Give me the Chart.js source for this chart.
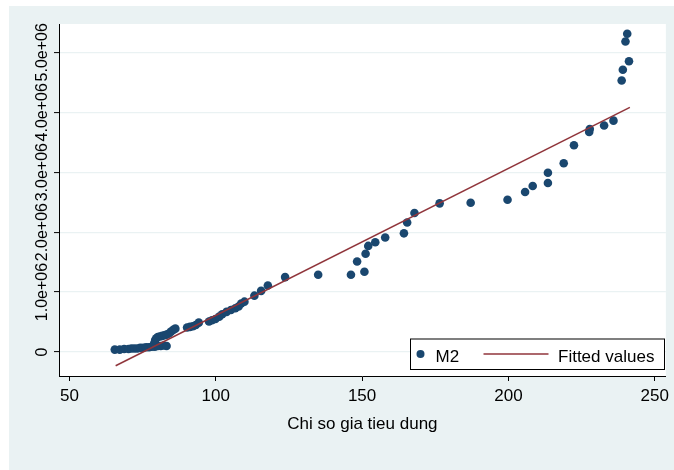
<!DOCTYPE html>
<html>
<head>
<meta charset="utf-8">
<script src="https://cdn.jsdelivr.net/npm/chart.js@4"></script>
<style>
  html, body { margin: 0; padding: 0; background: #ffffff; }
  #c { display: block; }
</style>
</head>
<body>
<canvas id="c" width="674" height="470"></canvas>
<script>
// ---- data ----
const m2X = [65.5,67.2,68.7,70.2,71.2,72.2,73.2,74.2,75.2,76.2,77.2,78.2,79.2,80.2,81.2,82.2,83.2,
  79.0,79.3,79.7,80.2,80.9,81.7,82.5,83.2,84.0,84.7,85.5,86.2,
  90.2,91.2,92.2,93.2,94.2,97.7,98.7,99.9,101.2,102.2,103.7,105.2,106.7,107.8,108.7,
  109.8,113.2,115.5,117.8,123.7,135.0,146.2,148.3,150.8,151.2,152.1,154.5,157.9,164.3,165.4,
  167.9,176.5,187.1,199.7,205.7,208.3,213.5,213.5,218.9,222.4,227.6,227.8,232.7,235.9,238.7,
  239.1,241.2,240.0,240.6];
const m2Y = [40000,40000,50000,50000,60000,60000,60000,70000,70000,80000,80000,90000,90000,100000,100000,110000,100000,
  150000,200000,230000,250000,260000,270000,280000,290000,310000,340000,370000,390000,
  410000,420000,430000,450000,490000,510000,530000,550000,590000,630000,670000,700000,730000,760000,810000,
  840000,940000,1020000,1110000,1250000,1290000,1290000,1510000,1340000,1640000,1770000,1830000,1910000,1980000,2160000,
  2320000,2480000,2490000,2540000,2670000,2770000,2820000,2990000,3150000,3450000,3670000,3720000,3780000,3860000,4530000,
  4710000,4850000,5180000,5310000];
const fittedX = [65.8, 241.5];
const fittedY = [-229000, 4080000];
const xTickValues = [50, 100, 150, 200, 250];
const xTickLabels = ["50", "100", "150", "200", "250"];
const yTickValues = [0, 1000000, 2000000, 3000000, 4000000, 5000000];
const yTickLabels = ["0", "1.0e+06", "2.0e+06", "3.0e+06", "4.0e+06", "5.0e+06"];
const seriesLabels = ["M2", "Fitted values"];
const xTitle = "Chi so gia tieu dung";

// ---- styling ----
const FONT = '"Liberation Sans", Arial, Helvetica, sans-serif';
const NAVY = '#1a476f';
const MAROON = '#90353b';
const BG = '#eaf2f3';
Chart.defaults.font.family = FONT;
Chart.defaults.color = '#000';

const bgPlugin = {
  id: 'bg',
  beforeDraw(chart) {
    const {ctx, chartArea: a} = chart;
    ctx.save();
    ctx.fillStyle = '#ffffff';
    ctx.fillRect(0, 0, chart.width, chart.height);
    ctx.fillStyle = BG;
    ctx.fillRect(9, 6, chart.width - 9, chart.height - 6);
    ctx.fillStyle = '#ffffff';
    ctx.fillRect(a.left, a.top, a.right - a.left, a.bottom - a.top);
    ctx.restore();
  }
};

const yLabelPlugin = {
  id: 'ylabels',
  afterDraw(chart) {
    const {ctx} = chart;
    const ys = chart.scales.y;
    ctx.save();
    ctx.fillStyle = '#000';
    ctx.font = '16px ' + FONT;
    ctx.textAlign = 'center';
    ctx.textBaseline = 'alphabetic';
    ys.ticks.forEach((t, i) => {
      const y = ys.getPixelForValue(t.value);
      ctx.save();
      ctx.translate(ys.right - 12.5, y);
      ctx.rotate(-Math.PI / 2);
      ctx.fillText(yTickLabels[i], 0, 0);
      ctx.restore();
    });
    ctx.restore();
  }
};

const legendPlugin = {
  id: 'boxlegend',
  afterDraw(chart) {
    const {ctx, chartArea: a} = chart;
    const ds = chart.data.datasets;
    const w = 254, h = 30.5;
    const x0 = Math.round(a.right) - 1.5 - w, y0 = Math.round(a.bottom) - 6.5 - h;
    const cy = y0 + 15;
    ctx.save();
    ctx.fillStyle = '#fff';
    ctx.fillRect(x0, y0, w, h);
    ctx.strokeStyle = '#000';
    ctx.lineWidth = 1;
    ctx.strokeRect(x0, y0, w, h);
    const scatterDs = ds.find(d => d.label === seriesLabels[0]);
    const lineDs = ds.find(d => d.label === seriesLabels[1]);
    ctx.fillStyle = scatterDs.backgroundColor;
    ctx.beginPath();
    ctx.arc(x0 + 10, cy, 4, 0, Math.PI * 2);
    ctx.fill();
    ctx.strokeStyle = lineDs.borderColor;
    ctx.lineWidth = 1.5;
    ctx.beginPath();
    ctx.moveTo(x0 + 73, cy);
    ctx.lineTo(x0 + 138, cy);
    ctx.stroke();
    ctx.fillStyle = '#000';
    ctx.font = '17px ' + FONT;
    ctx.textAlign = 'left';
    ctx.textBaseline = 'alphabetic';
    ctx.fillText(scatterDs.label, x0 + 25, cy + 7.5);
    ctx.fillText(lineDs.label, x0 + 147.5, cy + 7.5);
    ctx.restore();
  }
};

new Chart(document.getElementById('c'), {
  type: 'scatter',
  data: {
    datasets: [
      {
        type: 'line',
        label: seriesLabels[1],
        data: fittedX.map((x, i) => ({x: x, y: fittedY[i]})),
        borderColor: MAROON,
        backgroundColor: MAROON,
        borderWidth: 1.5,
        pointRadius: 0,
        fill: false,
        tension: 0,
        order: 0
      },
      {
        type: 'scatter',
        label: seriesLabels[0],
        data: m2X.map((x, i) => ({x: x, y: m2Y[i]})),
        backgroundColor: NAVY,
        borderColor: NAVY,
        borderWidth: 0,
        pointRadius: 4.3,
        order: 1
      }
    ]
  },
  options: {
    responsive: false,
    animation: false,
    layout: { padding: { left: 0, top: 24, right: 4, bottom: 0 } },
    plugins: { legend: { display: false }, tooltip: { enabled: false }, title: { display: false } },
    scales: {
      x: {
        type: 'linear',
        position: 'bottom',
        min: 46.44,
        max: 253.8,
        afterBuildTicks(s) { s.ticks = xTickValues.map(v => ({value: v})); },
        afterFit(s) { s.height = 94; },
        ticks: {
          color: '#000',
          font: { size: 17 },
          padding: 5,
          maxRotation: 0,
          autoSkip: false,
          callback(v) { const i = xTickValues.indexOf(v); return i >= 0 ? xTickLabels[i] : ''; }
        },
        grid: { drawOnChartArea: false, drawTicks: true, tickLength: 5, tickColor: '#000', tickWidth: 1 },
        border: { display: true, color: '#000', width: 1 },
        title: { display: true, text: xTitle, color: '#000', font: { size: 17 }, padding: { top: 0, bottom: 35 } }
      },
      y: {
        type: 'linear',
        position: 'left',
        min: -400000,
        max: 5472000,
        afterBuildTicks(s) { s.ticks = yTickValues.map(v => ({value: v})); },
        afterFit(s) { s.width = 59; },
        ticks: { display: false },
        grid: { display: true, drawOnChartArea: true, color: BG, lineWidth: 1.2, drawTicks: true, tickLength: 5, tickColor: '#000', tickWidth: 1 },
        border: { display: true, color: '#000', width: 1 }
      }
    }
  },
  plugins: [bgPlugin, yLabelPlugin, legendPlugin]
});
</script>
</body>
</html>
